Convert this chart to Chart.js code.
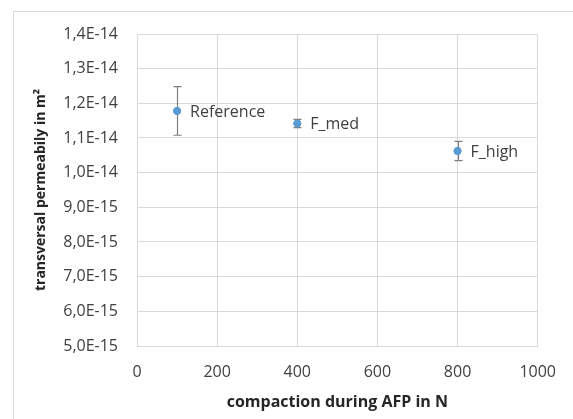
<!DOCTYPE html>
<html>
<head>
<meta charset="utf-8">
<script src="https://cdn.jsdelivr.net/npm/chart.js@4"></script>
<style>
  html, body { margin: 0; padding: 0; background: #fff; }
  #wrap { width: 573px; height: 419px; position: relative; }
</style>
</head>
<body>
<div id="wrap"><canvas id="chart"></canvas></div>
<script>
// values
const labels = ['Reference', 'F_med', 'F_high'];
const compaction = [100, 400, 800];
const permeability = [1.178e-14, 1.142e-14, 1.0625e-14];
const errors = [0.07e-14, 0.012e-14, 0.028e-14];
const xTicks = [0, 200, 400, 600, 800, 1000];
const yTicks = [5e-15, 6e-15, 7e-15, 8e-15, 9e-15, 1.0e-14, 1.1e-14, 1.2e-14, 1.3e-14, 1.4e-14];

const grey = '#d9d9d9';
const fontName = "'Open Sans', 'Liberation Sans', sans-serif";

function fmtExp(v) {
    return v.toExponential(1).replace('.', ',').replace('e', 'E');
}

// error bars + point labels, drawn through the scales
const errorBars = {
    id: 'errorBars',
    afterDatasetsDraw(chart) {
        const ctx = chart.ctx;
        const xs = chart.scales.x, ys = chart.scales.y;
        ctx.save();
        ctx.strokeStyle = '#7f7f7f';
        ctx.lineWidth = 1.2;
        compaction.forEach((c, i) => {
            const x = Math.round(xs.getPixelForValue(c)) + 0.5;
            const top = ys.getPixelForValue(permeability[i] + errors[i]);
            const bot = ys.getPixelForValue(permeability[i] - errors[i]);
            ctx.beginPath();
            ctx.moveTo(x, top); ctx.lineTo(x, bot);
            ctx.moveTo(x - 4, top); ctx.lineTo(x + 4, top);
            ctx.moveTo(x - 4, bot); ctx.lineTo(x + 4, bot);
            ctx.stroke();
        });
        // redraw points on top of bars
        const meta = chart.getDatasetMeta(0);
        meta.data.forEach(p => p.draw(ctx));
        ctx.fillStyle = '#404040';
        ctx.font = '16px ' + fontName;
        ctx.textBaseline = 'middle';
        ctx.textAlign = 'left';
        compaction.forEach((c, i) => {
            const x = xs.getPixelForValue(c);
            const y = ys.getPixelForValue(permeability[i]);
            ctx.fillText(labels[i], x + 13, y + 1);
        });
        ctx.restore();
    }
};

const frame = {
    id: 'frame',
    beforeDraw(chart) {
        const ctx = chart.ctx;
        ctx.save();
        ctx.fillStyle = '#fff';
        ctx.fillRect(0, 0, chart.width, chart.height);
        ctx.strokeStyle = grey;
        ctx.lineWidth = 1;
        ctx.strokeRect(13.5, 11.5, 600, 500);
        ctx.restore();
    }
};

const ctx = document.getElementById('chart');

new Chart(ctx, {
    type: 'scatter',
    data: {
        datasets: [{
            label: 'permeability',
            data: compaction.map((c, i) => ({ x: c, y: permeability[i] })),
            backgroundColor: '#5b9bd5',
            borderColor: '#5b9bd5',
            pointRadius: 3.5,
            pointHoverRadius: 3.5
        }]
    },
    options: {
        responsive: true,
        maintainAspectRatio: false,
        animation: false,
        events: [],
        layout: { padding: { left: 0, top: 34, right: 25, bottom: 0 } },
        plugins: { legend: { display: false }, tooltip: { enabled: false } },
        scales: {
            x: {
                type: 'linear',
                min: 0, max: 1000,
                afterBuildTicks: s => { s.ticks = xTicks.map(v => ({ value: v })); },
                afterFit: s => { s.height = 73; },
                grid: { color: grey, drawTicks: false },
                border: { color: grey },
                ticks: {
                    color: '#404040', padding: 17, maxRotation: 0,
                    font: { family: fontName, size: 16 },
                    callback: v => String(v)
                },
                title: {
                    display: true,
                    text: 'compaction during AFP in N',
                    color: '#262626',
                    font: { family: fontName, size: 16, weight: 'bold' },
                    padding: { top: 0, bottom: 7 }
                }
            },
            y: {
                min: 5e-15, max: 1.4e-14,
                afterBuildTicks: s => { s.ticks = yTicks.map(v => ({ value: v })); },
                afterFit: s => { s.width = 137; },
                grid: { color: grey, drawTicks: false },
                border: { color: grey },
                ticks: {
                    color: '#404040', padding: 19,
                    font: { family: fontName, size: 16 },
                    callback: v => fmtExp(v)
                },
                title: {
                    display: true,
                    text: 'transversal permeabily in m²',
                    color: '#262626',
                    font: { family: fontName, size: 14, weight: 'bold' },
                    padding: { top: 33, bottom: 0 }
                }
            }
        }
    },
    plugins: [frame, errorBars]
});
</script>
</body>
</html>
